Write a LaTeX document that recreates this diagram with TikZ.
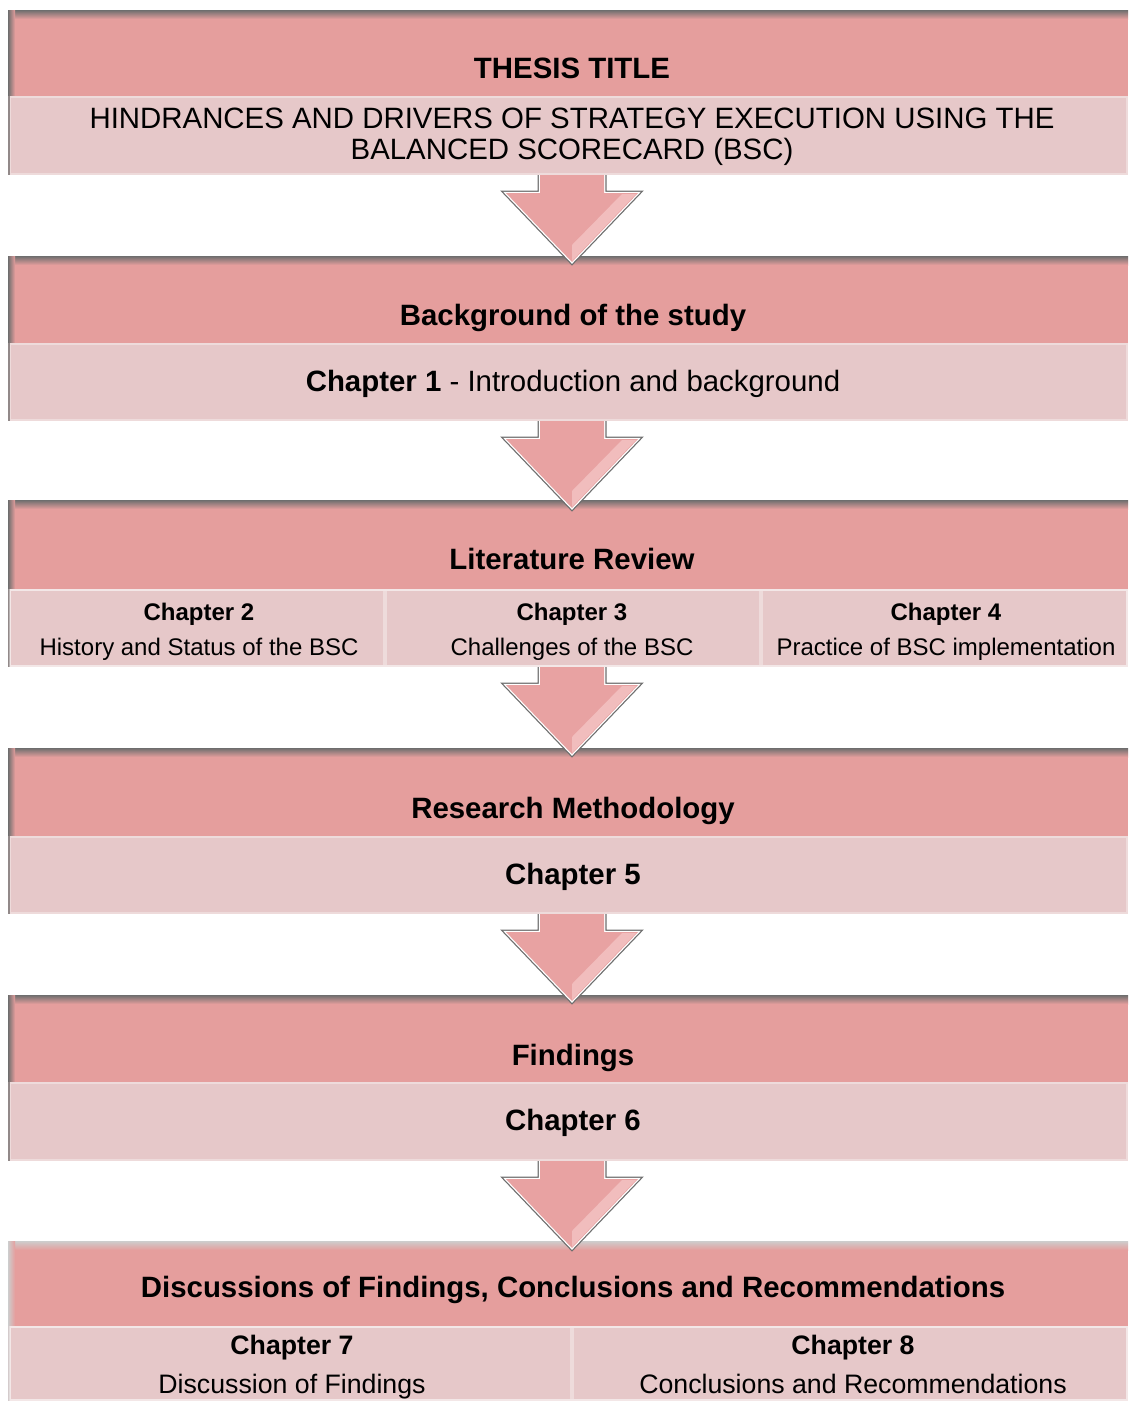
\documentclass[tikz,border=0pt]{standalone}
\usepackage{fontspec}
\setmainfont{Liberation Sans}
\usetikzlibrary{calc}
\definecolor{hdr}{RGB}{229,158,157}
\definecolor{band}{RGB}{230,200,201}
\definecolor{arrowpink}{RGB}{232,162,162}
\definecolor{arrowlight}{RGB}{244,196,196}
\definecolor{edgedark}{RGB}{110,110,110}
\definecolor{edgelight}{RGB}{205,205,205}

% one stage: header band plus lighter content band
% #1 top, #2 header bottom, #3 band bottom, #4 edge colour
\newcommand\stageblock[4]{%
  \fill[hdr] (8,#1) rectangle (1128,#2);
  \shade[top color=#4, bottom color=hdr] (8,#1) rectangle (1128,#1+9);
  \shade[left color=#4, right color=hdr] (8,#1) rectangle (15,#2);
  \fill[band] (8,#2) rectangle (1128,#3);
  \draw[white, opacity=0.35, line width=2] (10,#2+1) rectangle (1127,#3-1);
  \fill[#4!70!band] (8,#2) rectangle (10,#3);
}
% one downward arrow: #1 shaft top, centred on x = 572
\newcommand\flowarrow[1]{%
  \path[draw=edgedark, line width=5, line join=miter]
    (540,#1) -- (540,#1+18) -- (506,#1+18) -- (572,#1+87) -- (638,#1+18) -- (604,#1+18) -- (604,#1) ;
  \path[draw=white, line width=2.5, line join=miter]
    (540,#1) -- (540,#1+18) -- (506,#1+18) -- (572,#1+87) -- (638,#1+18) -- (604,#1+18) -- (604,#1) ;
  \fill[arrowpink]
    (540,#1) -- (540,#1+18) -- (506,#1+18) -- (572,#1+87) -- (638,#1+18) -- (604,#1+18) -- (604,#1) -- cycle;
  \fill[arrowlight, opacity=0.8] (572,#1+86) -- (636,#1+19) -- (622,#1+19) -- (572,#1+70) -- cycle;
}

\tikzset{
  txt/.style={inner sep=0, anchor=base},
  headtext/.style={txt, font=\bfseries\fontsize{29.4}{32}\selectfont},
  bodytext/.style={txt, font=\fontsize{29.4}{32}\selectfont},
  colhead/.style={txt, font=\bfseries\fontsize{24}{27}\selectfont},
  coltext/.style={txt, font=\fontsize{24}{27}\selectfont},
  lasthead/.style={txt, font=\bfseries\fontsize{26.7}{30}\selectfont},
  lasttext/.style={txt, font=\fontsize{26.7}{30}\selectfont},
  colbox/.style={draw=white, draw opacity=0.35, line width=2},
}

\begin{document}
\begin{tikzpicture}[x=1pt, y=-1pt]
\useasboundingbox (0,0) rectangle (1128,1401);

% stages
\stageblock{10}{96}{175}{edgedark}
\stageblock{256}{343}{421}{edgedark}
\stageblock{500}{589}{667}{edgedark}
\stageblock{748}{836}{914}{edgedark}
\stageblock{995}{1082}{1161}{edgedark}
\stageblock{1241}{1326}{1401}{edgelight}

% column cells
\draw[colbox] (10,590) rectangle (384,666);
\draw[colbox] (386,590) rectangle (760,666);
\draw[colbox] (762,590) rectangle (1127,666);
\draw[colbox] (10,1327) rectangle (571,1400);
\draw[colbox] (573,1327) rectangle (1127,1400);

% connecting arrows
\flowarrow{175}
\flowarrow{421}
\flowarrow{667}
\flowarrow{914}
\flowarrow{1161}

% texts
\node[headtext] (t1) at (572,78) {THESIS TITLE};
\node[bodytext] (t2) at (572,128) {HINDRANCES AND DRIVERS OF STRATEGY EXECUTION USING THE};
\node[bodytext] (t3) at (572,159) {BALANCED SCORECARD (BSC)};

\node[headtext] (b1) at (573,325) {Background of the study};
\node[bodytext] (b2) at (573,391) {\textbf{Chapter 1} - Introduction and background};

\node[headtext] (l1) at (572,569) {Literature Review};
\node[colhead] (c2) at (199,620) {Chapter 2};
\node[coltext] (c2t) at (199,655) {History and Status of the BSC};
\node[colhead] (c3) at (572,620) {Chapter 3};
\node[coltext] (c3t) at (572,655) {Challenges of the BSC};
\node[colhead] (c4) at (946,620) {Chapter 4};
\node[coltext] (c4t) at (946,655) {Practice of BSC implementation};

\node[headtext] (r1) at (573,818) {Research Methodology};
\node[headtext] (r2) at (573,884) {Chapter 5};

\node[headtext] (f1) at (573,1065) {Findings};
\node[headtext] (f2) at (573,1130) {Chapter 6};

\node[headtext] (d1) at (573,1297) {Discussions of Findings, Conclusions and Recommendations};
\node[lasthead] (c7) at (292,1354) {Chapter 7};
\node[lasttext] (c7t) at (292,1393) {Discussion of Findings};
\node[lasthead] (c8) at (853,1354) {Chapter 8};
\node[lasttext] (c8t) at (853,1393) {Conclusions and Recommendations};
\end{tikzpicture}
\end{document}
